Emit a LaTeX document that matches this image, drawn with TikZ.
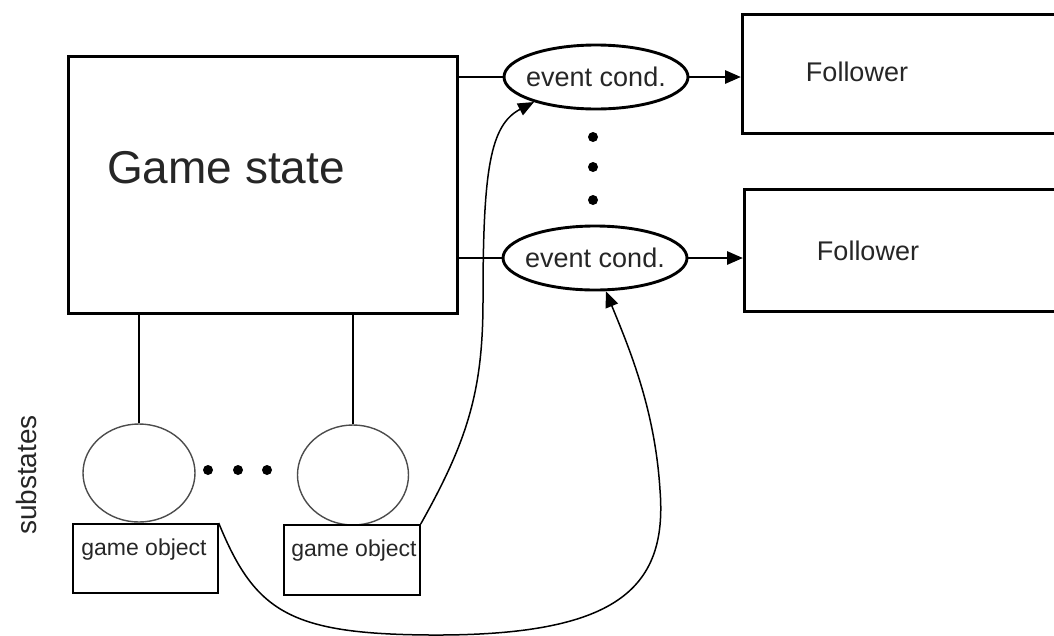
\documentclass[tikz,border=0pt]{standalone}
\usepackage{fontspec}
\setmainfont{Liberation Sans}
\usetikzlibrary{shapes.geometric,arrows.meta}
\definecolor{txt}{gray}{0.15}
\begin{document}
\begin{tikzpicture}[x=1pt,y=-1pt,
  bigbox/.style={draw,line width=3.1pt,rectangle,inner sep=0pt,anchor=north west},
  evt/.style={draw,line width=2.9pt,ellipse,inner sep=0pt,minimum width=184pt,minimum height=64pt},
  sub/.style={draw=black!70,line width=1.4pt,ellipse,inner sep=0pt},
  gobox/.style={draw,line width=1.7pt,rectangle,inner sep=0pt,anchor=north west},
  conn/.style={line width=2.9pt},
  arr/.style={-{Triangle[length=16pt,width=13pt]}},
  thinline/.style={line width=1.5pt},
  dot/.style={fill,circle,inner sep=0pt,minimum size=10pt},
  lbl/.style={text=txt,inner sep=0pt},
]
\useasboundingbox (0,0) rectangle (1054,635);

% main state box
\node[bigbox,minimum width=389pt,minimum height=257pt] (gs) at (67,55) {};
\node[lbl,font=\fontsize{46}{50}\selectfont] (gstext) at (226,168) {Game state};

% event conditions
\node[evt] (e1) at (596,77) {};
\node[lbl,font=\fontsize{27}{30}\selectfont] (e1text) at (e1) {event cond.};
\node[evt] (e2) at (595,258) {};
\node[lbl,font=\fontsize{27}{30}\selectfont] (e2text) at (e2) {event cond.};

% followers (open to the right edge)
\node[bigbox,minimum width=330pt,minimum height=119pt] (f1) at (741,13) {};
\node[lbl,font=\fontsize{27}{30}\selectfont] (f1text) at (857,72) {Follower};
\node[bigbox,minimum width=330pt,minimum height=122pt] (f2) at (743,188) {};
\node[lbl,font=\fontsize{27}{30}\selectfont] (f2text) at (868,251) {Follower};

% vertical dots between event conditions
\node[dot] (vd1) at (593,137) {};
\node[dot] (vd2) at (593,167) {};
\node[dot] (vd3) at (593,200) {};

% substates
\node[sub,minimum width=112pt,minimum height=98pt] (c1) at (139,473) {};
\node[sub,minimum width=111pt,minimum height=100pt] (c2) at (353,475) {};
\node[dot] (hd1) at (208,470) {};
\node[dot] (hd2) at (238,470) {};
\node[dot] (hd3) at (267,470) {};

% game objects
\node[gobox,minimum width=145pt,minimum height=69pt] (g1) at (72,523) {};
\node[lbl,font=\fontsize{23}{26}\selectfont] (g1text) at (144,550) {game object};
\node[gobox,minimum width=136pt,minimum height=70pt] (g2) at (283,524) {};
\node[lbl,font=\fontsize{23}{26}\selectfont] (g2text) at (354,551) {game object};

\node[lbl,font=\fontsize{28}{30}\selectfont,rotate=90] (subs) at (26,475) {substates};

% connections
\draw[conn] (gs.east |- e1.west) -- (e1.west);
\draw[conn] (gs.east |- e2.west) -- (e2.west);
\draw[conn,arr] (e1.east) -- (f1.west |- e1.east);
\draw[conn,arr] (e2.east) -- (f2.west |- e2.east);

\draw[thinline] (c1.north) -- (c1.north |- gs.south);
\draw[thinline] (c2.north) -- (c2.north |- gs.south);

\coordinate (low) at (430,635);
\coordinate (mid) at (483,300);
\draw[thinline,arr] (g2.north east) .. controls (468,440) and (483,390) .. (mid)
   .. controls (483,170) and (490,125) .. (e1.-158);
\draw[thinline,arr] (g1.north east) .. controls (255,612) and (290,634) .. (low)
   .. controls (615,636) and (668,590) .. (660,490)
   .. controls (655,410) and (630,350) .. (e2.-72);
\end{tikzpicture}
\end{document}
